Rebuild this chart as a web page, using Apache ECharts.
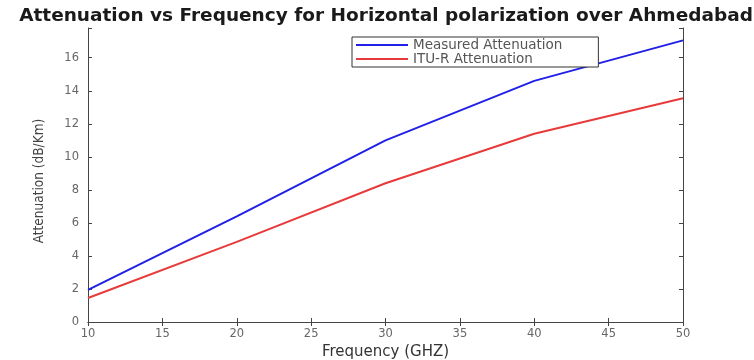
<!DOCTYPE html>
<html>
<head>
<meta charset="utf-8">
<script src="https://cdn.jsdelivr.net/npm/echarts@6/dist/echarts.min.js"></script>
<style>
  html, body { margin: 0; padding: 0; background: #ffffff; }
  #chart { width: 754px; height: 360px; }
</style>
</head>
<body>
<div id="chart"></div>
<script>
// Frequencies (GHz) and attenuation (dB/Km) for horizontal polarization
const frequencies = [10, 20, 30, 40, 50];
const measuredAttenuation = [1.95, 6.4, 11.0, 14.6, 17.05];
const ituAttenuation = [1.45, 4.85, 8.4, 11.4, 13.55];
const xTicks = [10, 15, 20, 25, 30, 35, 40, 45, 50];
const yTicks = [0, 2, 4, 6, 8, 10, 12, 14, 16];

const seriesNames = ['Measured Attenuation', 'ITU-R Attenuation'];
const FONT = 'DejaVu Sans';
const frameColor = '#444444';
const labelColor = '#666666';

const toPairs = (xs, ys) => xs.map((x, i) => [x, ys[i]]);
const yMax = 17.8;

const chart = echarts.init(document.getElementById('chart'), null, { renderer: 'canvas' });

const tickInside = { show: true, inside: true, length: 4, lineStyle: { color: frameColor } };

chart.setOption({
  backgroundColor: '#ffffff',
  animation: false,
  title: {
    text: 'Attenuation vs Frequency for Horizontal polarization over Ahmedabad',
    left: 381,
    textAlign: 'center',
    top: 2,
    textStyle: { fontFamily: FONT, fontSize: 18.5, fontWeight: 'bold', color: '#1a1a1a' }
  },
  legend: {
    data: seriesNames,
    orient: 'vertical',
    left: 352,
    top: 37,
    itemGap: 0,
    itemWidth: 52,
    itemHeight: 2,
    icon: 'rect',
    padding: [1, 36, 1, 4],
    borderColor: '#333333',
    borderWidth: 1,
    backgroundColor: '#ffffff',
    textStyle: { fontFamily: FONT, fontSize: 13.5, lineHeight: 11, color: '#555555' }
  },
  grid: { left: 88, right: 71, top: 28, bottom: 38, containLabel: false, outerBoundsMode: 'none' },
  xAxis: [
    {
      type: 'value', min: 10, max: 50, interval: 5,
      name: 'Frequency (GHZ)', nameLocation: 'middle', nameGap: 23,
      nameTextStyle: { fontFamily: FONT, fontSize: 15, color: '#333333' },
      axisLine: { show: true, onZero: false, lineStyle: { color: frameColor } },
      axisTick: tickInside,
      axisLabel: {
        fontFamily: FONT, fontSize: 11.5, color: labelColor, margin: 6,
        formatter: v => (xTicks.includes(v) ? String(v) : '')
      },
      splitLine: { show: false }
    },
    {
      type: 'value', position: 'top', min: 10, max: 50, interval: 5,
      axisLine: { show: true, lineStyle: { color: frameColor } },
      axisTick: tickInside,
      axisLabel: { show: false },
      splitLine: { show: false }
    }
  ],
  yAxis: [
    {
      type: 'value', min: 0, max: yMax, interval: 2,
      name: 'Attenuation (dB/Km)', nameLocation: 'middle', nameGap: 42,
      nameTextStyle: { fontFamily: 'DejaVu Sans Condensed', fontSize: 13.5, color: '#444444', padding: [0, 12, 0, 0] },
      axisLine: { show: true, onZero: false, lineStyle: { color: frameColor } },
      axisTick: tickInside,
      axisLabel: {
        fontFamily: FONT, fontSize: 11.5, color: labelColor, margin: 9,
        formatter: v => (yTicks.includes(v) ? String(v) : '')
      },
      splitLine: { show: false }
    },
    {
      type: 'value', position: 'right', min: 0, max: yMax, interval: 2,
      axisLine: { show: true, lineStyle: { color: frameColor } },
      axisTick: tickInside,
      axisLabel: { show: false },
      splitLine: { show: false }
    }
  ],
  series: [
    {
      name: seriesNames[0], type: 'line', data: toPairs(frequencies, measuredAttenuation),
      showSymbol: false, symbol: 'none',
      itemStyle: { color: '#2020e8' },
      lineStyle: { color: '#2020e8', width: 2 }
    },
    {
      name: seriesNames[1], type: 'line', data: toPairs(frequencies, ituAttenuation),
      showSymbol: false, symbol: 'none',
      itemStyle: { color: '#e83a3a' },
      lineStyle: { color: '#e83a3a', width: 2 }
    }
  ]
});
</script>
</body>
</html>
